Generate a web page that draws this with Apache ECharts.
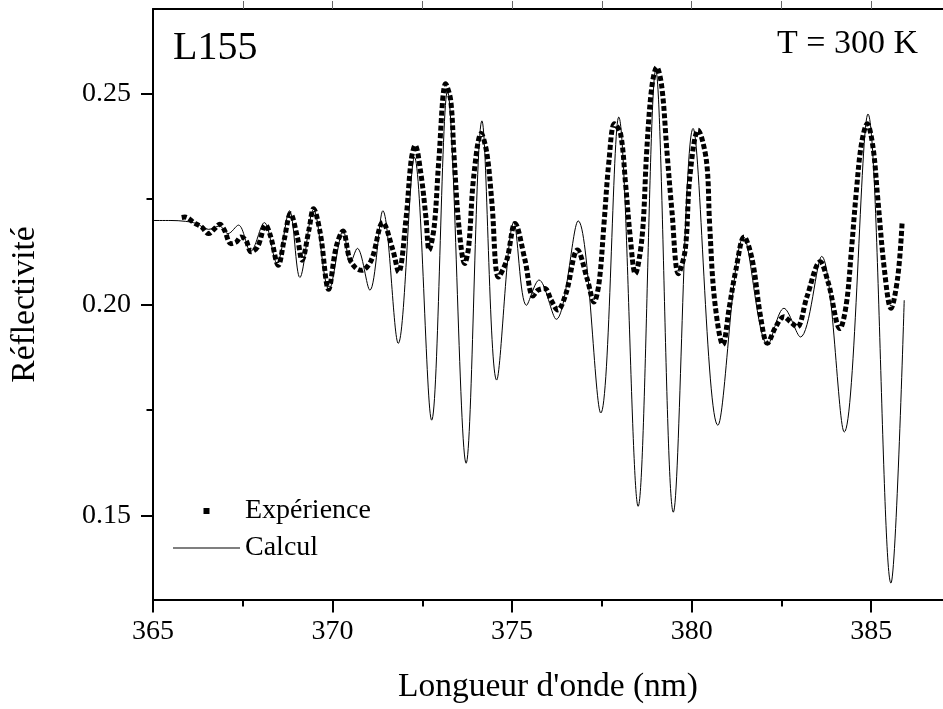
<!DOCTYPE html>
<html><head><meta charset="utf-8">
<script src="https://cdn.jsdelivr.net/npm/echarts@6/dist/echarts.min.js"></script>
<style>html,body{margin:0;padding:0;background:#fff}#c{width:943px;height:709px}</style>
</head><body><div id="c"></div>
<script>
// ---- data ----
const expWavelength = [365.80,365.89,366.17,366.35,366.55,366.72,366.86,366.99,367.17,367.32,
367.45,367.59,367.73,367.91,368.14,368.28,368.49,368.65,368.83,369.02,
369.15,369.34,369.47,369.66,369.89,370.10,370.29,370.47,370.64,370.81,
371.08,371.40,371.68,371.84,372.05,372.19,372.30,372.46,372.60,372.69,
372.83,372.96,373.15,373.29,373.38,373.52,373.68,373.79,373.93,374.14,
374.30,374.44,374.62,374.85,375.08,375.36,375.58,375.72,375.91,376.09,
376.27,376.50,376.82,377.10,377.28,377.42,377.56,377.70,377.85,378.02,
378.16,378.29,378.43,378.62,378.75,378.89,379.03,379.17,379.31,379.45,
379.63,379.82,379.95,380.18,380.41,380.50,380.64,380.87,381.05,381.23,
381.46,381.69,381.92,382.11,382.34,382.57,382.75,382.94,383.21,383.58,
383.81,384.13,384.31,384.45,384.59,384.73,384.89,385.05,385.18,385.37,
385.55,385.74,385.86];
const expReflectivity = [0.2206,0.2207,0.2192,0.2184,0.2168,0.2180,0.2190,0.2176,0.2144,0.2148,
0.2160,0.2152,0.2125,0.2136,0.2188,0.2160,0.2093,0.2152,0.2215,0.2160,
0.2105,0.2176,0.2227,0.2168,0.2036,0.2136,0.2174,0.2110,0.2087,0.2081,
0.2105,0.2194,0.2129,0.2077,0.2207,0.2342,0.2377,0.2310,0.2207,0.2129,
0.2184,0.2342,0.2523,0.2484,0.2357,0.2184,0.2097,0.2136,0.2302,0.2405,
0.2357,0.2239,0.2065,0.2105,0.2192,0.2105,0.2020,0.2034,0.2038,0.2010,
0.1987,0.2026,0.2129,0.2058,0.2006,0.2050,0.2192,0.2342,0.2428,0.2405,
0.2286,0.2160,0.2073,0.2160,0.2365,0.2515,0.2562,0.2515,0.2365,0.2223,
0.2073,0.2129,0.2302,0.2413,0.2342,0.2192,0.2010,0.1905,0.1994,0.2081,
0.2160,0.2105,0.1971,0.1908,0.1947,0.1971,0.1959,0.1947,0.2018,0.2101,
0.2050,0.1943,0.2002,0.2129,0.2271,0.2381,0.2428,0.2373,0.2255,0.2081,
0.1991,0.2065,0.2192];

const calcWavelength = [365.00,365.50,365.90,366.20,366.55,366.85,367.09,367.38,367.72,368.10,
368.45,368.80,369.09,369.47,369.90,370.30,370.49,370.69,371.04,371.40,
371.83,372.28,372.76,373.20,373.72,374.16,374.57,375.05,375.40,375.75,
376.23,376.84,377.47,377.97,378.51,379.00,379.49,380.04,380.73,381.45,
382.12,382.57,383.03,383.62,384.25,384.91,385.55,385.92];
const calcReflectivity = [0.2199,0.2199,0.2197,0.2192,0.2178,0.2186,0.2168,0.2188,0.2126,0.2194,
0.2098,0.2222,0.2064,0.2225,0.2035,0.2176,0.2097,0.2133,0.2034,0.2222,
0.1908,0.2349,0.1726,0.2505,0.1624,0.2435,0.1821,0.2195,0.1998,0.2058,
0.1965,0.2198,0.1743,0.2444,0.1522,0.2555,0.1508,0.2417,0.1714,0.2160,
0.1905,0.1991,0.1923,0.2114,0.1698,0.2451,0.1340,0.2010];

const xMajorTicks = [365, 370, 375, 380, 385];
const xMinorTicks = [367.5, 372.5, 377.5, 382.5];
const xTopTicks = [367.5, 370, 372.5, 375, 377.5, 380, 382.5, 385];
const yMajorTicks = [0.15, 0.20, 0.25];
const yMinorTicks = [0.175, 0.225];
const seriesNames = ['Expérience', 'Calcul'];
const xTitle = "Longueur d'onde (nm)";
const yTitle = 'Réflectivité';
const sampleLabel = 'L155';
const tempLabel = 'T = 300 K';

// ---- chart ----
const FONT = '"Liberation Serif", "Times New Roman", Times, serif';
const black = '#000';
const zip = (a, b) => a.map((v, i) => [v, b[i]]);
const X_MIN = 365, X_MAX = 387, Y_MIN = 0.13, Y_MAX = 0.27;

// legend icons: a 67x6 bounding box (tiny corner specks) holding a centred square / a thin line
const squareIcon = 'path://M0,0h0.01v0.01h-0.01z M66.99,5.99h0.01v0.01h-0.01z M30.5,0h6v6h-6z';
const lineIcon = 'path://M0,0h0.01v0.01h-0.01z M66.99,5.99h0.01v0.01h-0.01z M0,2.5h67v1h-67z';

const chart = echarts.init(document.getElementById('c'), null, {renderer: 'canvas'});
const option = {
  animation: false,
  backgroundColor: '#fff',
  textStyle: {fontFamily: FONT, color: black},
  title: [
    {text: sampleLabel, left: 173, top: 28, padding: 0,
     textStyle: {fontSize: 40, fontWeight: 'normal', fontFamily: FONT, color: black}},
    {text: tempLabel, right: 25, top: 27, padding: 0,
     textStyle: {fontSize: 34, fontWeight: 'normal', fontFamily: FONT, color: black}}
  ],
  legend: {
    orient: 'vertical', left: 173, top: 497, padding: 0,
    itemWidth: 67, itemHeight: 6, itemGap: 9, symbolKeepAspect: false,
    textStyle: {fontSize: 28, fontFamily: FONT, color: black, lineHeight: 28},
    data: [
      {name: seriesNames[0], icon: squareIcon, itemStyle: {color: black, borderWidth: 0}},
      {name: seriesNames[1], icon: lineIcon, itemStyle: {color: black, borderWidth: 0}}
    ]
  },
  grid: {left: 151, right: -6, top: 9, bottom: 108, containLabel: false},
  xAxis: [
    {type: 'value', position: 'bottom', min: X_MIN, max: X_MAX,
     axisLine: {show: true, onZero: false, lineStyle: {color: black, width: 2}},
     axisTick: {show: true, length: 12.5, customValues: xMajorTicks, lineStyle: {color: black, width: 2}},
     axisLabel: {show: true, customValues: xMajorTicks, margin: 18, fontSize: 28, fontFamily: FONT, color: black},
     splitLine: {show: false},
     name: xTitle, nameLocation: 'middle', nameGap: 70,
     nameTextStyle: {fontSize: 33.5, fontFamily: FONT, color: black}},
    {type: 'value', position: 'top', min: X_MIN, max: X_MAX,
     axisLine: {show: true, onZero: false, lineStyle: {color: black, width: 2}},
     axisTick: {show: true, length: 8, customValues: xTopTicks, lineStyle: {color: '#666', width: 1}},
     axisLabel: {show: false}, splitLine: {show: false}},
    {type: 'value', position: 'bottom', min: X_MIN, max: X_MAX,
     axisLine: {show: false, onZero: false},
     axisTick: {show: true, length: 6.5, customValues: xMinorTicks, lineStyle: {color: black, width: 2}},
     axisLabel: {show: false}, splitLine: {show: false}}
  ],
  yAxis: [
    {type: 'value', position: 'left', min: Y_MIN, max: Y_MAX,
     axisLine: {show: true, onZero: false, lineStyle: {color: black, width: 2}},
     axisTick: {show: true, length: 12, customValues: yMajorTicks, lineStyle: {color: black, width: 2}},
     axisLabel: {show: true, customValues: yMajorTicks, margin: 22, fontSize: 28, fontFamily: FONT, color: black,
                 formatter: v => Number(v).toFixed(2)},
     splitLine: {show: false},
     name: yTitle, nameLocation: 'middle', nameGap: 111,
     nameTextStyle: {fontSize: 33.5, fontFamily: FONT, color: black}},
    {type: 'value', position: 'left', min: Y_MIN, max: Y_MAX,
     axisLine: {show: false, onZero: false},
     axisTick: {show: true, length: 6.5, customValues: yMinorTicks, lineStyle: {color: black, width: 2}},
     axisLabel: {show: false}, splitLine: {show: false}}
  ],
  series: [
    {name: seriesNames[0], type: 'line', xAxisIndex: 0, yAxisIndex: 0,
     data: zip(expWavelength, expReflectivity),
     smooth: 0.35, symbol: 'none', color: black, z: 2,
     lineStyle: {color: black, width: 5, type: [5, 2.5], cap: 'butt', join: 'miter'}},
    {name: seriesNames[1], type: 'line', xAxisIndex: 0, yAxisIndex: 0,
     data: zip(calcWavelength, calcReflectivity),
     smooth: 0.35, symbol: 'none', color: black, z: 3,
     lineStyle: {color: black, width: 1}}
  ]
};
chart.setOption(option);
</script>
</body></html>
